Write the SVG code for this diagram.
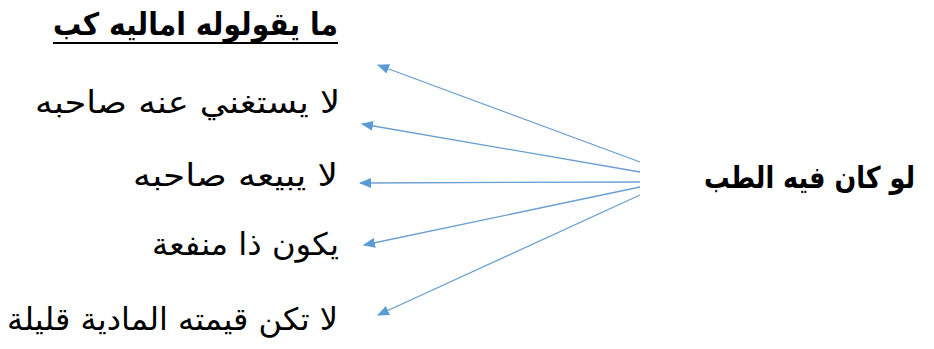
<svg xmlns="http://www.w3.org/2000/svg" width="934" height="349" viewBox="0 0 934 349">
<style>
.t{font-family:"DejaVu Sans","Liberation Sans",sans-serif;font-size:31px;fill:#000;text-anchor:end}
.b{font-weight:bold}
.c{stroke:#6a9fcf;stroke-width:1.3;fill:none;marker-end:url(#ah)}
</style>
<defs>
<marker id="ah" viewBox="0 0 12 10" refX="11" refY="5" markerWidth="12" markerHeight="10" markerUnits="userSpaceOnUse" orient="auto">
<path d="M0,0 L12,5 L0,10 z" fill="#5b9bd5"/>
</marker>
</defs>
<rect width="934" height="349" fill="#fff"/>
<g id="title"><text class="t b" x="338" y="35" textLength="285" lengthAdjust="spacingAndGlyphs">ما يقولوله اماليه كب</text><line x1="53" y1="43" x2="338" y2="43" stroke="#000" stroke-width="2"/></g>
<g id="n1"><text class="t" x="340" y="113" textLength="305" lengthAdjust="spacingAndGlyphs">لا يستغني عنه صاحبه</text></g>
<g id="n2"><text class="t" x="338" y="186" textLength="205" lengthAdjust="spacingAndGlyphs">لا يبيعه صاحبه</text></g>
<g id="n3"><text class="t" x="339" y="255" textLength="187" lengthAdjust="spacingAndGlyphs">يكون ذا منفعة</text></g>
<g id="n4"><text class="t" x="338" y="330" textLength="331" lengthAdjust="spacingAndGlyphs">لا تكن قيمته المادية قليلة</text></g>
<g id="src"><text class="t b" transform="translate(915,188) scale(0.85,1)" x="0" y="0" style="font-size:30px">لو كان فيه الطب</text></g>
<g id="connectors">
<line class="c" x1="640" y1="162" x2="378" y2="65"/>
<line class="c" x1="640" y1="172" x2="362" y2="124"/>
<line class="c" x1="640" y1="182" x2="360" y2="183"/>
<line class="c" x1="640" y1="187" x2="364" y2="245"/>
<line class="c" x1="640" y1="195" x2="378" y2="315"/>
</g>
</svg>
